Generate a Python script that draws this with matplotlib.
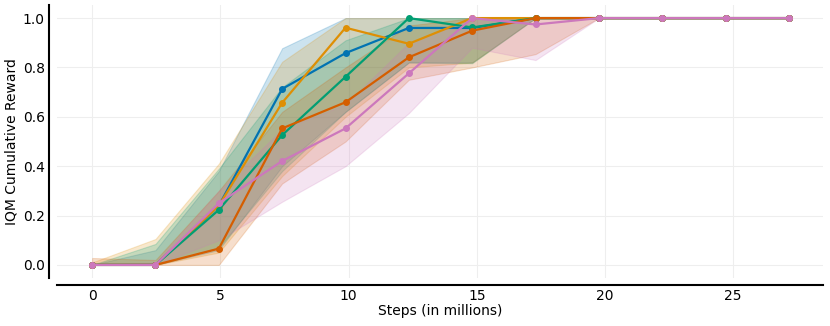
import matplotlib
matplotlib.use("Agg")
import matplotlib.pyplot as plt
import numpy as np

steps = [i * 2.47 for i in range(12)]
colors = ["#0173b2", "#de8f05", "#029e73", "#d55e00", "#cc78bc"]

blue_mean = [0.0, 0.0, 0.24, 0.713, 0.858, 0.96, 0.96, 1.0, 1.0, 1.0, 1.0, 1.0]
blue_lo = [0.0, 0.0, 0.06, 0.40, 0.62, 0.82, 0.82, 1.0, 1.0, 1.0, 1.0, 1.0]
blue_hi = [0.0, 0.06, 0.38, 0.878, 1.0, 1.0, 1.0, 1.0, 1.0, 1.0, 1.0, 1.0]

orange_mean = [0.0, 0.0, 0.24, 0.657, 0.961, 0.896, 1.0, 1.0, 1.0, 1.0, 1.0, 1.0]
orange_lo = [0.0, 0.0, 0.05, 0.36, 0.60, 0.80, 0.82, 1.0, 1.0, 1.0, 1.0, 1.0]
orange_hi = [0.01, 0.105, 0.41, 0.823, 1.0, 1.0, 1.0, 1.0, 1.0, 1.0, 1.0, 1.0]

green_mean = [0.0, 0.0, 0.223, 0.526, 0.762, 1.0, 0.962, 1.0, 1.0, 1.0, 1.0, 1.0]
green_lo = [0.0, 0.0, 0.07, 0.38, 0.62, 0.82, 0.817, 1.0, 1.0, 1.0, 1.0, 1.0]
green_hi = [0.0, 0.085, 0.39, 0.72, 0.91, 1.0, 1.0, 1.0, 1.0, 1.0, 1.0, 1.0]

red_mean = [0.0, 0.0, 0.066, 0.553, 0.659, 0.841, 0.949, 1.0, 1.0, 1.0, 1.0, 1.0]
red_lo = [0.0, 0.0, 0.0, 0.33, 0.50, 0.75, 0.80, 0.854, 1.0, 1.0, 1.0, 1.0]
red_hi = [0.028, 0.02, 0.30, 0.62, 0.80, 0.97, 1.0, 1.0, 1.0, 1.0, 1.0, 1.0]

pink_mean = [0.0, 0.0, 0.25, 0.421, 0.553, 0.776, 1.0, 0.974, 1.0, 1.0, 1.0, 1.0]
pink_lo = [0.0, 0.0, 0.10, 0.256, 0.40, 0.615, 0.88, 0.83, 1.0, 1.0, 1.0, 1.0]
pink_hi = [0.0, 0.01, 0.30, 0.55, 0.65, 0.90, 1.0, 1.0, 1.0, 1.0, 1.0, 1.0]

series = [
    (blue_mean, blue_lo, blue_hi),
    (orange_mean, orange_lo, orange_hi),
    (green_mean, green_lo, green_hi),
    (red_mean, red_lo, red_hi),
    (pink_mean, pink_lo, pink_hi),
]

fig = plt.figure(figsize=(8.3, 3.26), dpi=100)
ax = fig.add_axes([57 / 830, 48 / 326, (823 - 57) / 830, (278 - 5) / 326])

for (m, lo, hi), c in zip(series, colors):
    ax.fill_between(steps, lo, hi, color=c, alpha=0.2, linewidth=0.8)
for (m, lo, hi), c in zip(series, colors):
    ax.plot(steps, m, color=c, linewidth=1.6, marker="o", markersize=4)

ax.set_xlim(-1.37, 28.5)
ax.set_ylim(-0.053, 1.053)
ax.set_xticks([0, 5, 10, 15, 20, 25])
ax.set_yticks([0.0, 0.2, 0.4, 0.6, 0.8, 1.0])
ax.set_yticklabels(["0.0", "0.2", "0.4", "0.6", "0.8", "1.0"])
ax.grid(True, color="#eeeeee", linewidth=0.8)
ax.set_axisbelow(True)
ax.tick_params(length=0, labelsize=10, pad=3)
for s in ["top", "right"]:
    ax.spines[s].set_visible(False)
ax.spines["left"].set_position(("outward", 5.8))
ax.spines["bottom"].set_position(("outward", 5.0))
ax.spines["left"].set_linewidth(1.5)
ax.spines["bottom"].set_linewidth(1.5)
ax.set_xlabel("Steps (in millions)", fontsize=10, labelpad=1)
ax.set_ylabel("IQM Cumulative Reward", fontsize=10, labelpad=3)

fig.savefig("out.png", dpi=100)
